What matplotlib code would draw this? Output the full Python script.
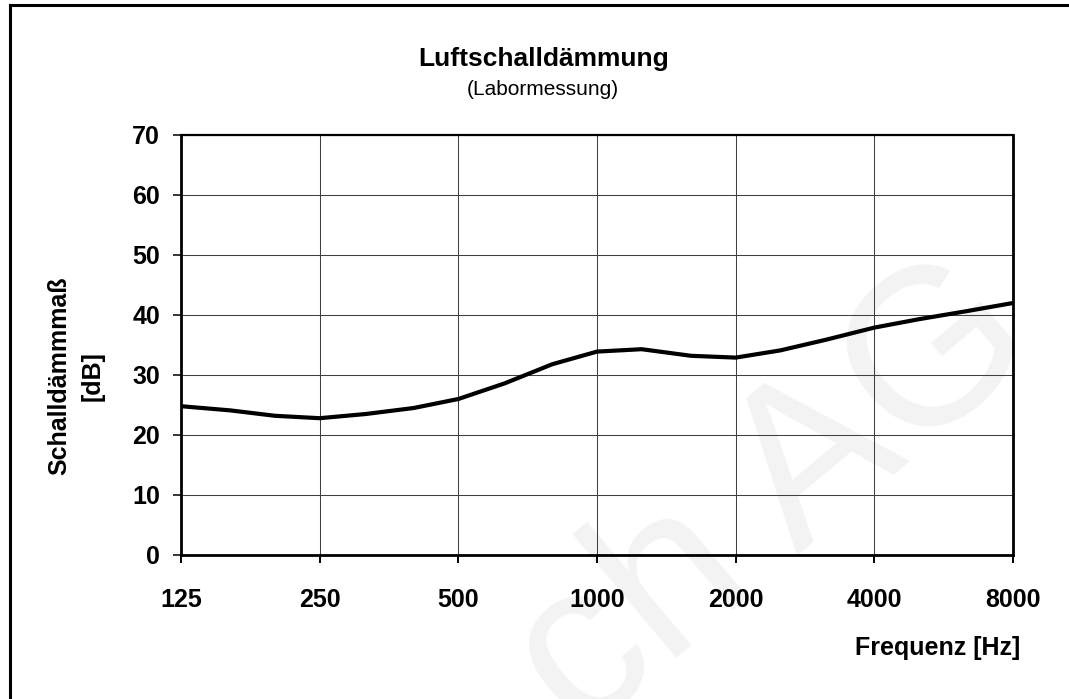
import numpy as np
import matplotlib
matplotlib.use('Agg')
import matplotlib.pyplot as plt
from matplotlib.lines import Line2D
from matplotlib.ticker import FixedLocator, FixedFormatter, NullLocator

plt.rcParams['font.family'] = ['Liberation Sans', 'DejaVu Sans']

# Data (third-octave bands)
freq = [125, 160, 200, 250, 315, 400, 500, 630, 800, 1000,
        1250, 1600, 2000, 2500, 3150, 4000, 5000, 6300, 8000]
r_db = [24.8, 24.1, 23.2, 22.8, 23.5, 24.5, 26.0, 28.6, 31.8, 33.9,
        34.3, 33.2, 32.9, 34.1, 35.9, 37.9, 39.3, 40.6, 42.0]

x_ticks = [125, 250, 500, 1000, 2000, 4000, 8000]
x_labels = ['125', '250', '500', '1000', '2000', '4000', '8000']
y_ticks = [0, 10, 20, 30, 40, 50, 60, 70]

fig = plt.figure(figsize=(10.69, 6.99), dpi=100)
fig.patch.set_facecolor('white')

# faint watermark behind everything
fig.text(0.725, 0.285, 'ch AG', rotation=40, ha='center', va='center',
         fontsize=160, color='#f3f3f3', zorder=0)

ax = fig.add_axes([181 / 1069, 144 / 699, 832 / 1069, 420 / 699])
ax.set_facecolor('none')
ax.set_zorder(1)

ax.plot(freq, r_db, color='black', lw=3, solid_joinstyle='round', zorder=3)

ax.set_xscale('log')
ax.set_xlim(125, 8000)
ax.set_ylim(0, 70)
ax.xaxis.set_major_locator(FixedLocator(x_ticks))
ax.xaxis.set_major_formatter(FixedFormatter(x_labels))
ax.xaxis.set_minor_locator(NullLocator())
ax.set_yticks(y_ticks)

ax.grid(True, which='major', color='#404040', lw=0.75)
ax.set_axisbelow(True)

for side in ['left', 'bottom', 'right']:
    ax.spines[side].set_linewidth(2.0)
ax.spines['top'].set_linewidth(1.6)

ax.tick_params(axis='y', direction='out', length=6, width=1.1, pad=9,
               labelsize=18)
ax.tick_params(axis='x', direction='out', length=6, width=1.4, pad=18,
               labelsize=18)
for lab in ax.get_xticklabels() + ax.get_yticklabels():
    lab.set_fontweight('bold')

ax.set_ylabel('Schalldämmmaß\n[dB]', fontsize=18, fontweight='bold',
              linespacing=1.5)
ax.yaxis.set_label_coords(-0.0913, 0.426)

ax.text(1.0084, -0.2214, 'Frequenz [Hz]', transform=ax.transAxes,
        ha='right', va='center', fontsize=18, fontweight='bold')

# title and subtitle
fig.text(0.5084, 0.9056, 'Luftschalldämmung', ha='center', va='baseline',
         fontsize=19, fontweight='bold')
fig.text(0.5075, 0.864, '(Labormessung)', ha='center', va='baseline',
         fontsize=15)

# frame around the figure (left and top edges visible)
fig.add_artist(Line2D([9.5 / 1069, 9.5 / 1069], [0, 1 - 4.5 / 699],
                      transform=fig.transFigure, color='black', lw=2.2))
fig.add_artist(Line2D([9.5 / 1069, 1], [1 - 4.5 / 699, 1 - 4.5 / 699],
                      transform=fig.transFigure, color='black', lw=2.2))

fig.savefig('out.png', dpi=100)
